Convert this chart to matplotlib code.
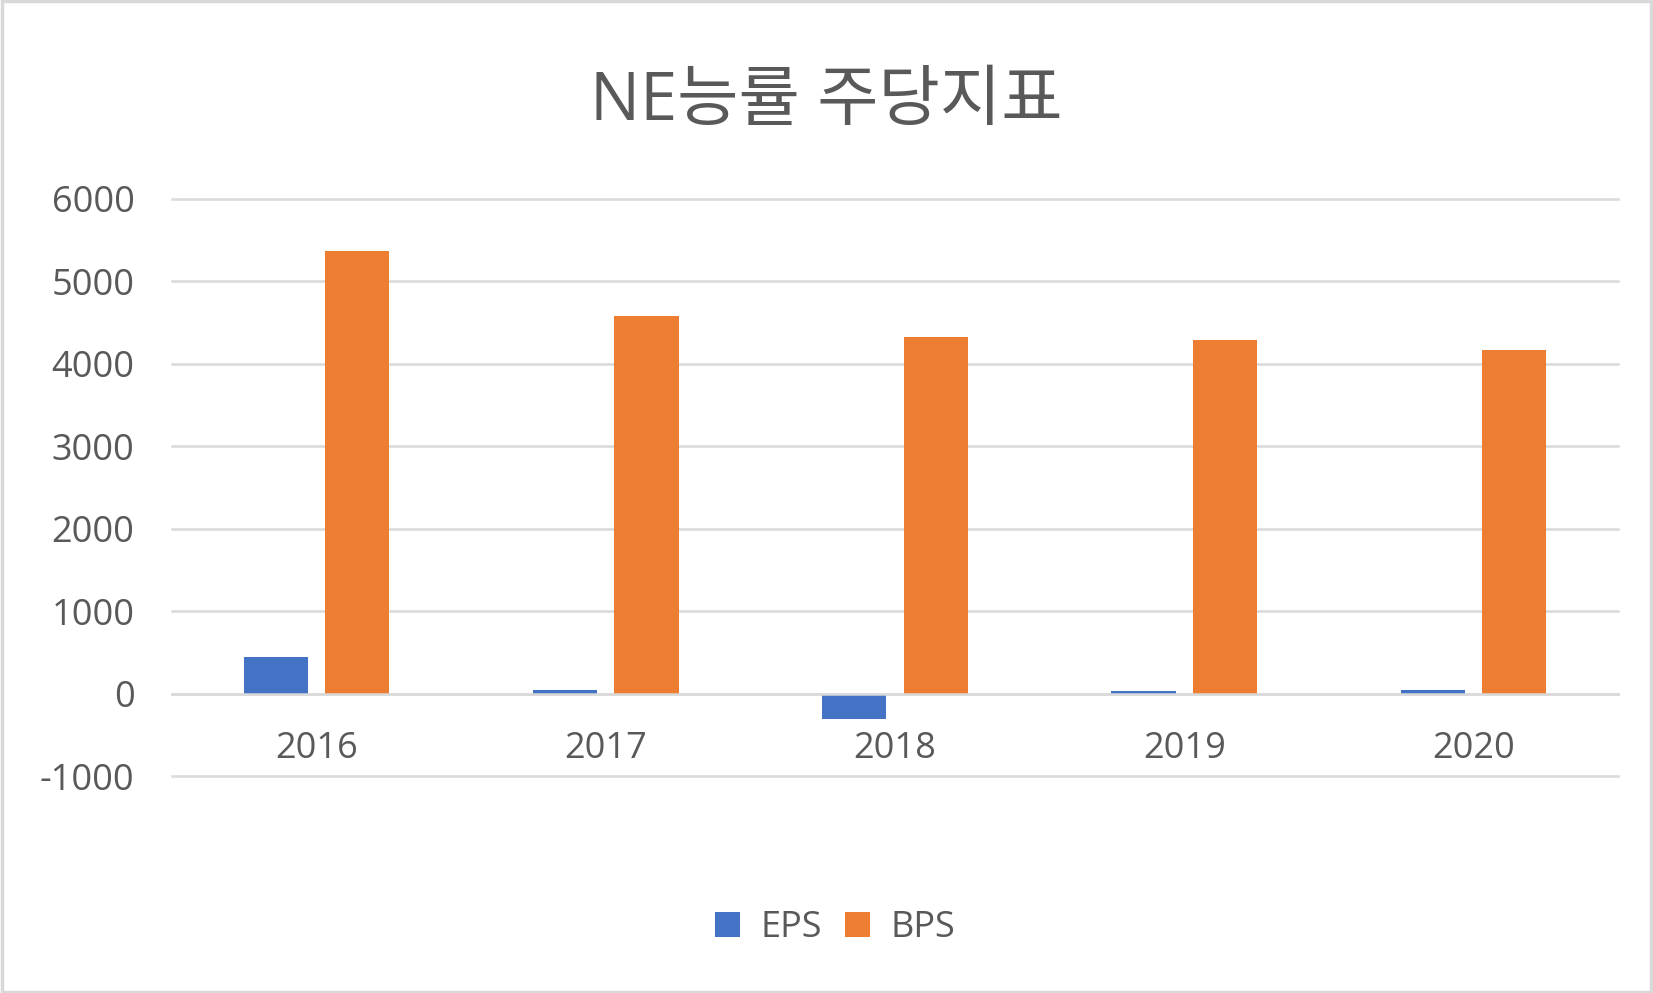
import matplotlib
matplotlib.use("Agg")
import matplotlib.pyplot as plt
from matplotlib.patches import Rectangle
import numpy as np

plt.rcParams['font.family'] = ['Open Sans', 'Noto Sans CJK KR', 'DejaVu Sans']

years = ["2016", "2017", "2018", "2019", "2020"]
eps = [440, 47, -310, 33, 45]
bps = [5370, 4580, 4320, 4285, 4170]
y_ticks = [-1000, 0, 1000, 2000, 3000, 4000, 5000, 6000]

text_color = "#595959"
grid_color = "#D9D9D9"

fig = plt.figure(figsize=(16.53, 9.93), dpi=100)
ax = fig.add_axes([172 / 1653, 1 - 776 / 993, (1618 - 172) / 1653, (776 - 199) / 993])

x = np.arange(len(years))
w = 0.222
ax.bar(x - 0.141, eps, w, color="#4472C4", label="EPS", zorder=3)
ax.bar(x + 0.141, bps, w, color="#ED7D31", label="BPS", zorder=3)

ax.set_xlim(-0.5, len(years) - 0.5)
ax.set_ylim(-1000, 6000)
ax.set_yticks(y_ticks)
ax.set_yticklabels([str(v) for v in y_ticks])
ax.yaxis.grid(True, color=grid_color, linewidth=1.8, zorder=0)
for gl in ax.get_ygridlines():
    gl.set_clip_on(False)
ax.set_xticks(x)
ax.set_xticklabels(years)

for s in ["top", "right", "left"]:
    ax.spines[s].set_visible(False)
ax.spines["bottom"].set_position(("data", 0))
ax.spines["bottom"].set_color(grid_color)
ax.spines["bottom"].set_linewidth(1.8)
ax.spines["bottom"].set_zorder(4)
ax.tick_params(axis="both", length=0, labelsize=26, colors=text_color)
ax.tick_params(axis="y", pad=27)
ax.tick_params(axis="x", pad=27)

fig.suptitle("NE능률 주당지표", x=0.5, y=1 - 102 / 993, va="center",
             fontsize=48, color=text_color)

leg = fig.legend(loc="center", bbox_to_anchor=(835 / 1653, 1 - 928 / 993), ncol=2,
                 frameon=False, fontsize=26, handlelength=0.7, handleheight=0.7,
                 columnspacing=0.65, handletextpad=0.55)
for t in leg.get_texts():
    t.set_color(text_color)

fig.patches.append(Rectangle((0.001, 0.001), 0.998, 0.998, transform=fig.transFigure,
                             fill=False, edgecolor=grid_color, linewidth=2.5))

fig.savefig("out.png", dpi=100, facecolor="white")
